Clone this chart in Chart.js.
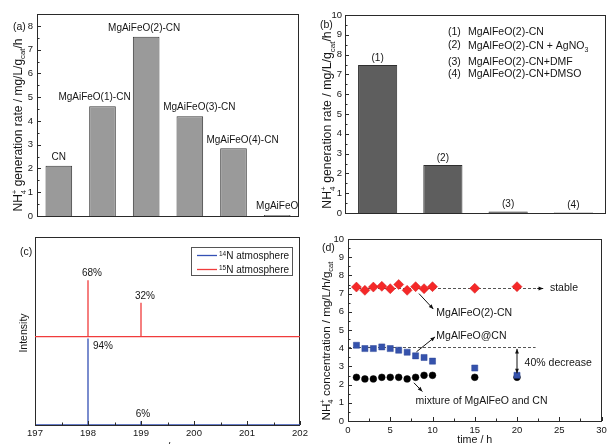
<!DOCTYPE html>
<html>
<head>
<meta charset="utf-8">
<script src="https://cdn.jsdelivr.net/npm/chart.js@4"></script>
<style>
  html, body { margin: 0; padding: 0; background: #fff; overflow: hidden; }
  canvas { position: absolute; left: 0; top: 0; }
</style>
</head>
<body>
<canvas id="cA" width="607" height="444"></canvas>
<canvas id="cB" width="607" height="444"></canvas>
<canvas id="cC" width="607" height="444"></canvas>
<canvas id="cD" width="607" height="444"></canvas>
<script>
// ---- (a) catalysts ----
const samplesA = ['CN', 'MgAiFeO(1)-CN', 'MgAiFeO(2)-CN', 'MgAiFeO(3)-CN', 'MgAiFeO(4)-CN', 'MgAiFeO'];
const rateA = [2.11, 4.62, 7.54, 4.2, 2.85, 0.04];

// ---- (b) scavengers ----
const samplesB = ['(1)', '(2)', '(3)', '(4)'];
const rateB = [7.48, 2.42, 0.07, 0.03];
const legendB = ['MgAlFeO(2)-CN', 'MgAlFeO(2)-CN + AgNO', 'MgAlFeO(2)-CN+DMF', 'MgAlFeO(2)-CN+DMSO'];

// ---- (c) isotope labelling ----
const mzTicks = [197, 198, 199, 200, 201, 202];
const mzPeaks = [198, 199];
const n14Base = 0;
const n14Peaks = [46, 2];
const n15Base = 47;
const n15Peaks = [77, 65];
const n14Pct = ['94%', '6%'];
const n15Pct = ['68%', '32%'];

// ---- (d) stability ----
const timeH = [1, 2, 3, 4, 5, 6, 7, 8, 9, 10, 15, 20];
const conc2CN = [7.36, 7.18, 7.36, 7.4, 7.27, 7.5, 7.18, 7.38, 7.27, 7.38, 7.29, 7.38];
const concAtCN = [4.16, 3.98, 3.98, 4.07, 3.98, 3.89, 3.78, 3.58, 3.49, 3.29, 2.91, 2.51];
const concMix = [2.4, 2.31, 2.31, 2.4, 2.4, 2.4, 2.31, 2.4, 2.51, 2.51, 2.4, 2.4];

const FONT = '"Liberation Sans", Arial, sans-serif';
const INK = '#151515';
const W = 607, H = 444;
const tickFont = { family: FONT, size: 9.5 };

function baseOpts(padding) {
  return {
    responsive: false, animation: false, devicePixelRatio: 1, events: [],
    layout: { padding },
    plugins: { legend: { display: false }, tooltip: { enabled: false } }
  };
}
function fixW(w) { return s => { s.width = w; s.paddingTop = 0; s.paddingBottom = 0; }; }
function fixH(h) { return s => { s.height = h; s.paddingLeft = 0; s.paddingRight = 0; }; }
function valueAxis(min, max, step, width, pad) {
  return {
    min, max, afterFit: fixW(width),
    ticks: { stepSize: step, includeBounds: false, padding: pad, color: INK, font: tickFont },
    grid: { display: false, drawTicks: false }, border: { display: false }
  };
}

function txt(ctx, s, x, y, size, align, color) {
  ctx.save();
  ctx.font = size + 'px ' + FONT;
  ctx.fillStyle = color || INK;
  ctx.textAlign = align || 'left';
  ctx.textBaseline = 'middle';
  ctx.fillText(s, x, y);
  ctx.restore();
}

// runs: [text, size, dy, sameStartAsPrevious]
function rich(ctx, x, y, runs, rot, align) {
  ctx.save();
  ctx.translate(x, y);
  if (rot) ctx.rotate(rot);
  ctx.fillStyle = INK;
  ctx.textBaseline = 'alphabetic';
  ctx.textAlign = 'left';
  let cur = 0, lastStart = 0;
  const starts = runs.map(r => {
    ctx.font = r[1] + 'px ' + FONT;
    const w = ctx.measureText(r[0]).width;
    const st = r[3] ? lastStart : cur;
    lastStart = st;
    cur = Math.max(cur, st + w);
    return st;
  });
  const off = align === 'center' ? -cur / 2 : 0;
  runs.forEach((r, i) => {
    ctx.font = r[1] + 'px ' + FONT;
    ctx.fillText(r[0], off + starts[i], r[2]);
  });
  ctx.restore();
}
function nh4(size, rest) {
  const s = size * 0.65;
  return [['NH', size, 0], ['4', s, size * 0.3], ['+', s, -size * 0.42, true]].concat(rest);
}

function frame(chart) {
  const { ctx, chartArea: a } = chart;
  ctx.save();
  ctx.strokeStyle = '#2a2a2a';
  ctx.lineWidth = 1;
  ctx.strokeRect(Math.round(a.left) + 0.5, Math.round(a.top) + 0.5,
    Math.round(a.right - a.left) - 1, Math.round(a.bottom - a.top));
  ctx.restore();
}
function yTicks(chart, minor, major) {
  const { ctx, chartArea: a, scales: { y } } = chart;
  ctx.save();
  ctx.strokeStyle = '#2a2a2a';
  ctx.lineWidth = 1;
  ctx.beginPath();
  for (let v = y.min; v <= y.max + 1e-9; v += minor) {
    const py = Math.round(y.getPixelForValue(v)) + 0.5;
    const big = Math.abs(v / major - Math.round(v / major)) < 1e-6;
    ctx.moveTo(Math.round(a.left), py);
    ctx.lineTo(Math.round(a.left) + (big ? 4 : 2.5), py);
  }
  ctx.stroke();
  ctx.restore();
}
function xTicks(chart, minor, major) {
  const { ctx, chartArea: a, scales: { x } } = chart;
  ctx.save();
  ctx.strokeStyle = '#2a2a2a';
  ctx.lineWidth = 1;
  ctx.beginPath();
  for (let v = x.min; v <= x.max + 1e-9; v += minor) {
    const px = Math.round(x.getPixelForValue(v)) + 0.5;
    const big = Math.abs(v / major - Math.round(v / major)) < 1e-6;
    ctx.moveTo(px, Math.round(a.bottom));
    ctx.lineTo(px, Math.round(a.bottom) - (big ? 4 : 2.5));
  }
  ctx.stroke();
  ctx.restore();
}
function arrow(ctx, x1, y1, x2, y2, both) {
  const head = (xa, ya, xb, yb) => {
    const ang = Math.atan2(yb - ya, xb - xa);
    ctx.beginPath();
    ctx.moveTo(xb, yb);
    ctx.lineTo(xb - 5 * Math.cos(ang - 0.4), yb - 5 * Math.sin(ang - 0.4));
    ctx.lineTo(xb - 5 * Math.cos(ang + 0.4), yb - 5 * Math.sin(ang + 0.4));
    ctx.closePath();
    ctx.fill();
  };
  ctx.save();
  ctx.strokeStyle = '#111';
  ctx.fillStyle = '#111';
  ctx.lineWidth = 1;
  ctx.beginPath();
  ctx.moveTo(x1, y1);
  ctx.lineTo(x2, y2);
  ctx.stroke();
  head(x1, y1, x2, y2);
  if (both) head(x2, y2, x1, y1);
  ctx.restore();
}

// ===== (a) =====
const labelShiftA = [0, -8, -2, 9.5, 9, 0];
new Chart(document.getElementById('cA'), {
  type: 'bar',
  data: {
    labels: samplesA,
    datasets: [{ data: rateA, backgroundColor: '#9a9a9a', borderColor: '#3a3a3a', borderWidth: 1,
      barPercentage: 0.61, categoryPercentage: 1 }]
  },
  options: Object.assign(baseOpts({ left: 7, top: 14, right: W - 299, bottom: H - 216 }), {
    scales: { x: { display: false }, y: valueAxis(0, 8.5, 1, 30, 4) }
  }),
  plugins: [{
    id: 'decoA',
    afterDraw(chart) {
      const ctx = chart.ctx;
      frame(chart);
      yTicks(chart, 0.5, 1);
      chart.getDatasetMeta(0).data.forEach((bar, i) =>
        txt(ctx, samplesA[i], bar.x + labelShiftA[i], bar.y - 8.5, 10, 'center'));
      txt(ctx, '(a)', 13, 27, 10.5);
      rich(ctx, 22, 125, nh4(12, [[' generation rate / mg/L/g', 12, 0], ['cat', 7.8, 3.4], ['/h', 12, 0]]),
        -Math.PI / 2, 'center');
    }
  }]
});

// ===== (b) =====
const legendRowsB = [32, 45, 62, 74];
new Chart(document.getElementById('cB'), {
  type: 'bar',
  data: {
    labels: samplesB,
    datasets: [{ data: rateB, backgroundColor: '#5e5e5e', borderColor: '#2e2e2e', borderWidth: 1,
      barPercentage: 0.6, categoryPercentage: 1 }]
  },
  options: Object.assign(baseOpts({ left: 315, top: 15, right: 1, bottom: H - 213 }), {
    scales: { x: { display: false }, y: valueAxis(0, 10, 1, 30, 3) }
  }),
  plugins: [{
    id: 'decoB',
    afterDraw(chart) {
      const ctx = chart.ctx;
      frame(chart);
      yTicks(chart, 0.5, 1);
      chart.getDatasetMeta(0).data.forEach((bar, i) =>
        txt(ctx, samplesB[i], bar.x, bar.y - 7, 10, 'center'));
      legendB.forEach((s, i) => {
        txt(ctx, samplesB[i], 448, legendRowsB[i], 10.5);
        if (i === 1) {
          rich(ctx, 468, legendRowsB[i] + 3.8, [[s, 10.5, 0], ['3', 7, 3]], 0, 'left');
        } else {
          txt(ctx, s, 468, legendRowsB[i], 10.5);
        }
      });
      txt(ctx, '(b)', 320, 25, 10.5);
      rich(ctx, 331, 120, nh4(12.3, [[' generation rate / mg/L/g', 12.3, 0], ['cat', 8, 3.5], ['/h', 12.3, 0]]),
        -Math.PI / 2, 'center');
    }
  }]
});

// ===== (c) =====
function spikeLine(base, peaks) {
  const pts = [{ x: mzTicks[0], y: base }];
  mzPeaks.forEach((m, i) => {
    pts.push({ x: m, y: base }, { x: m, y: peaks[i] }, { x: m, y: base });
  });
  pts.push({ x: mzTicks[mzTicks.length - 1], y: base });
  return pts;
}
const BLUE = '#3450b4', RED = '#f03c3c';
new Chart(document.getElementById('cC'), {
  type: 'line',
  data: {
    datasets: [
      { data: spikeLine(n14Base, n14Peaks), borderColor: BLUE, borderWidth: 1.3, pointRadius: 0, tension: 0 },
      { data: spikeLine(n15Base, n15Peaks), borderColor: RED, borderWidth: 1.3, pointRadius: 0, tension: 0 }
    ]
  },
  options: Object.assign(baseOpts({ left: 35, top: 237, right: W - 300, bottom: 7 }), {
    scales: {
      x: {
        type: 'linear', min: mzTicks[0], max: mzTicks[mzTicks.length - 1], afterFit: fixH(12),
        ticks: { stepSize: 1, padding: 3, color: INK, font: tickFont },
        grid: { display: false, drawTicks: false }, border: { display: false }
      },
      y: { display: false, min: 0, max: 100 }
    }
  }),
  plugins: [{
    id: 'decoC',
    beforeDatasetsDraw(chart) { frame(chart); },
    afterDraw(chart) {
      const { ctx, scales: { x, y } } = chart;
      xTicks(chart, 0.5, 1);
      mzPeaks.forEach((m, i) => {
        const px = x.getPixelForValue(m);
        txt(ctx, n15Pct[i], px + 4, y.getPixelForValue(n15Peaks[i]) - 7, 10, 'center');
      });
      txt(ctx, n14Pct[0], x.getPixelForValue(mzPeaks[0]) + 5, y.getPixelForValue(n14Peaks[0]) + 8, 10, 'left');
      txt(ctx, n14Pct[1], x.getPixelForValue(mzPeaks[1]) + 2, y.getPixelForValue(n14Peaks[1]) - 7, 10, 'center');
      // legend box
      ctx.save();
      ctx.fillStyle = '#fff';
      ctx.strokeStyle = '#555';
      ctx.lineWidth = 1;
      ctx.fillRect(191.5, 247.5, 101, 28);
      ctx.strokeRect(191.5, 247.5, 101, 28);
      [[BLUE, '14', 255.5], [RED, '15', 269.5]].forEach(([c, iso, ly]) => {
        ctx.strokeStyle = c;
        ctx.lineWidth = 1.3;
        ctx.beginPath();
        ctx.moveTo(197, ly);
        ctx.lineTo(217, ly);
        ctx.stroke();
        rich(ctx, 219, ly + 3.5, [[iso, 6.5, -3.5], ['N atmosphere', 10, 0]], 0, 'left');
      });
      ctx.restore();
      txt(ctx, '(c)', 20, 252, 10.5);
      rich(ctx, 27, 333, [['Intensity', 10.5, 0]], -Math.PI / 2, 'center');
      txt(ctx, 'm/z', 167, 447, 11, 'center');
    }
  }]
});

// ===== (d) =====
const pts = arr => timeH.map((t, i) => ({ x: t, y: arr[i] }));
new Chart(document.getElementById('cD'), {
  type: 'scatter',
  data: {
    datasets: [
      { data: pts(conc2CN), pointStyle: 'rectRot', pointRadius: 5, backgroundColor: '#f52828', borderColor: '#d41818', borderWidth: 0.5 },
      { data: pts(concAtCN), pointStyle: 'rect', pointRadius: 4.3, backgroundColor: '#3552ac', borderColor: '#2c4698', borderWidth: 0.5 },
      { data: pts(concMix), pointStyle: 'circle', pointRadius: 3.4, backgroundColor: '#000', borderColor: '#000', borderWidth: 0.5 }
    ]
  },
  options: Object.assign(baseOpts({ left: 318, top: 239, right: 2, bottom: 11 }), {
    scales: {
      x: {
        type: 'linear', min: 0, max: 30, afterFit: fixH(12),
        ticks: { stepSize: 5, padding: 4, color: INK, font: tickFont },
        grid: { display: false, drawTicks: false }, border: { display: false }
      },
      y: valueAxis(0, 10, 1, 30, 4)
    }
  }),
  plugins: [{
    id: 'decoD',
    beforeDatasetsDraw(chart) {
      const { ctx, scales: { x, y } } = chart;
      ctx.save();
      ctx.strokeStyle = '#555';
      ctx.lineWidth = 1;
      ctx.setLineDash([3, 2]);
      [[7.3, 22.4], [4.04, 22.2]].forEach(([lv, xe]) => {
        const py = Math.round(y.getPixelForValue(lv)) + 0.5;
        ctx.beginPath();
        ctx.moveTo(x.getPixelForValue(0), py);
        ctx.lineTo(x.getPixelForValue(xe), py);
        ctx.stroke();
      });
      ctx.restore();
    },
    afterDraw(chart) {
      const { ctx, scales: { x, y } } = chart;
      frame(chart);
      yTicks(chart, 0.5, 1);
      xTicks(chart, 2.5, 5);
      const P = (a, b) => [x.getPixelForValue(a), y.getPixelForValue(b)];
      const py = Math.round(y.getPixelForValue(7.3)) + 0.5;
      arrow(ctx, x.getPixelForValue(22.4), py, x.getPixelForValue(23.1), py);
      txt(ctx, 'stable', ...P(23.9, 7.3), 10.5);
      arrow(ctx, ...P(20, 3.96), ...P(20, 2.62), true);
      txt(ctx, '40% decrease', ...P(20.9, 3.19), 10.5);
      arrow(ctx, ...P(8.4, 7.0), ...P(10.1, 6.15));
      txt(ctx, 'MgAlFeO(2)-CN', ...P(10.45, 5.93), 10.5);
      arrow(ctx, ...P(8.1, 3.8), ...P(10.3, 4.62));
      txt(ctx, 'MgAlFeO@CN', ...P(10.45, 4.67), 10.5);
      arrow(ctx, ...P(7.8, 2.1), ...P(8.8, 1.62));
      txt(ctx, 'mixture of MgAlFeO and CN', ...P(8.0, 1.1), 10.5);
      txt(ctx, '(d)', 322, 248, 10.5);
      rich(ctx, 330, 341, nh4(11.6, [[' concentration / mg/L/h/g', 11.6, 0], ['cat', 7.5, 3.3]]),
        -Math.PI / 2, 'center');
      txt(ctx, 'time / h', (chart.chartArea.left + chart.chartArea.right) / 2, 440, 10.7, 'center');
    }
  }]
});
</script>
</body>
</html>
